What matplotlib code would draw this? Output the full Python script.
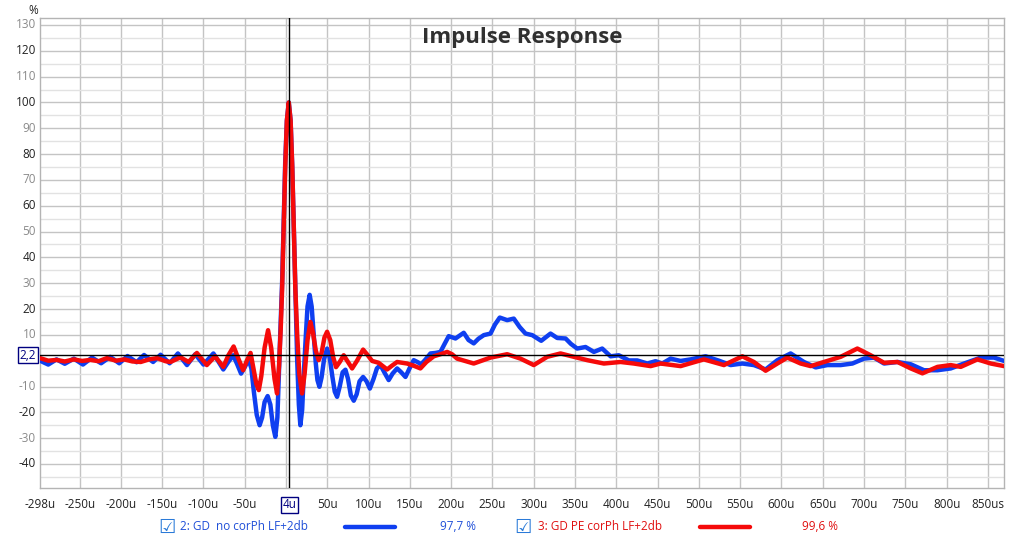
import matplotlib
matplotlib.use('Agg')
import matplotlib.pyplot as plt
from matplotlib.ticker import MultipleLocator
from matplotlib.lines import Line2D

plt.rcParams['font.family'] = ['Open Sans', 'DejaVu Sans']

# series 2: GD no corPh LF+2db  (time in us, amplitude in %)
blue_t = [-298, -288, -278, -268, -257, -246, -235, -224, -213, -202, -192, -181,
          -172, -161, -152, -141, -131, -120, -110, -100, -88, -76, -70, -64,
          -59, -54.5, -50, -45.3, -42, -39, -35.5, -32, -29, -26, -22.3, -19, -16,
          -13, -10.5, -8.5, -6.5, -4.8, -3, -1, 1, 3.3, 5.5, 7.5, 9.5, 11.5, 13.5,
          15.5, 17.3, 19.5, 21.5, 24, 26, 28.6, 31, 33.5, 36, 38, 40.4, 43, 46,
          49.7, 53, 56, 59, 61.8, 65, 68.5, 71.9, 75, 78.5, 82, 85.5, 89, 93.3,
          97.5, 101.5, 106, 110, 114.3, 119, 124.3, 129, 134.5, 139.5, 144.6,
          149.5, 154.6, 159, 163.6, 169, 174.9, 181, 187, 192, 197, 205.2, 215.2,
          221, 227.3, 233, 239.5, 247.6, 253, 258.8, 267.8, 275.8, 283, 290,
          298.1, 309, 320.3, 328.4, 338.5, 345, 352.6, 362.7, 372.8, 382.9, 393,
          403, 415.2, 425.3, 437.5, 447.5, 455.6, 465.7, 477.8, 489.9, 508.1,
          524.2, 538.4, 552.6, 566.6, 580.8, 595, 611.1, 627.2, 641.4, 655.6,
          671.7, 685.9, 699.9, 712.1, 724.2, 740.5, 756.6, 772.7, 788.9, 805,
          821.1, 841.4, 857.5, 869.6]
blue_v = [0.0, -1.5, 0.5, -1.2, 0.8, -1.5, 1.2, -1.0, 1.5, -1.0, 1.8, -0.6,
          2.2, -0.5, 2.3, -1.0, 2.8, -1.7, 2.5, -1.5, 2.8, -3.4, -0.5, 2.1,
          -1.5, -5.0, -2.5, 0.5, -3, -12, -21, -25, -22, -16, -13.7, -17, -25,
          -29.5, -22, -3, 15, 30, 52, 77, 93, 100, 93, 75, 50, 25, 0,
          -17, -25, -19, -5, 10, 21, 25.5, 21, 10, -1, -7.5, -10.1, -6.5, 0.5,
          4.7, 1, -6, -12, -14, -10, -4.5, -3.5, -7, -13.5, -15.5, -13, -8, -6.3,
          -8, -10.8, -7, -3, -1.7, -4.5, -7.5, -5, -3.0, -4.5, -6.3,
          -3, 0.2, -0.5, -1.4, 0.5, 2.8, 3.0, 3.4, 6.5, 9.5, 8.6, 10.8,
          8, 6.7, 8.5, 9.9, 10.5, 14, 16.7, 15.7, 16.3, 13, 10.5,
          9.9, 7.7, 10.5, 8.8, 8.6, 6.5, 4.7, 5.3, 3.4, 4.7, 1.7,
          2.1, 0.1, 0.1, -1.1, -0.2, -1.1, 0.8, -0.1, 0.5, 1.7,
          0.0, -1.7, -1.1, -1.7, -3.4, 0.2, 2.8, -0.5, -2.6, -1.7,
          -1.7, -1.1, 0.8, 1.2, -1.1, -0.5, -1.4, -3.7, -3.7, -3.0,
          -1.1, 1.2, 1.2, -0.1]

# series 3: GD PE corPh LF+2db
red_t = [-298, -288, -278, -268, -257, -247, -237, -227, -217, -206, -196, -186,
         -176, -166, -156, -146, -140, -128, -118, -108, -96, -86, -76, -70,
         -63.5, -58, -52, -47.5, -43, -39.5, -36, -33, -30, -26, -21.8, -18, -14,
         -10.9, -8.5, -6.5, -4.8, -3, -1, 1, 3.3, 5.5, 7.5, 9.5, 11.3, 13.5, 16,
         19.4, 22.5, 26, 29.4, 32.5, 36, 39.5, 43, 46.5, 49.7, 53.5, 57, 60.5, 65,
         69.8, 75, 80, 86, 93.3, 98.5, 104.2, 112, 122.4, 128, 134.5, 146.6, 155,
         162.7, 170, 178.9, 187, 195.1, 201, 207.2, 227.3, 247.6, 267.8, 283.9,
         300, 316.3, 332.4, 348.5, 364.8, 384.9, 405.1, 421.2, 441.5, 453.6,
         477.8, 506, 530.3, 552.6, 566.6, 580.8, 595, 607.1, 623.2, 635.4, 651.5,
         671.7, 691.9, 708, 724.2, 740.5, 756.6, 770.7, 788.9, 805, 817.1, 837.3,
         853.5, 869.6]
red_v = [1.0, 0.0, 0.3, -0.3, 0.5, -0.1, 0.3, -0.2, 1.0, 0.0, 0.5, -0.3,
         -0.5, 0.5, 1.0, -0.2, -0.5, 1.3, -0.5, 3.0, -1.7, 1.7, -2.4, 2,
         5.5, 1, -3.7, 0, 3.0, -3, -9, -11.4, -6, 5, 11.8, 5, -7,
         -12.7, -2, 12, 27.3, 50, 75, 93, 100, 93, 75, 50, 27.3, 10, -5,
         -12.7, -5, 8, 15.0, 11, 4, 0.2, 3, 9, 11.2, 8, 1.5, -2.5, -0.5,
         2.1, -0.5, -3.0, 0, 4.3, 2.3, -0.1, -0.8, -3.4, -2, -0.5, -1.1, -2,
         -3.0, -0.5, 1.7, 2.5, 3.4, 2.5, 0.8, -1.1, 1.2, 2.5, 0.8,
         -1.7, 1.5, 2.8, 1.5, 0.2, -1.1, -0.5, -1.1, -2.1, -1.1,
         -2.1, 0.5, -1.7, 1.7, -0.5, -3.9, -1.1, 1.2, -1.1, -2.1, -0.5,
         1.5, 4.7, 2.1, -0.8, -0.5, -3.0, -4.9, -2.4, -1.7, -2.4, 0.5,
         -1.1, -2.1]

series_names = ['2: GD  no corPh LF+2db', '3: GD PE corPh LF+2db']
series_pct = ['97,7 %', '99,6 %']
series_colors = ['#0f3ff0', '#f50a0a']
text_colors = ['#1f4fd8', '#e01010']

x_ticks = [-298, -250, -200, -150, -100, -50, 50, 100, 150, 200, 250, 300, 350,
           400, 450, 500, 550, 600, 650, 700, 750, 800, 850]
x_labels = ['-298u', '-250u', '-200u', '-150u', '-100u', '-50u', '50u', '100u',
            '150u', '200u', '250u', '300u', '350u', '400u', '450u', '500u',
            '550u', '600u', '650u', '700u', '750u', '800u', '850us']
y_ticks = [130, 120, 110, 100, 90, 80, 70, 60, 50, 40, 30, 20, 10,
           -10, -20, -30, -40]
cursor_t = 4
cursor_v = 2.2

W, H = 1024, 539
fig = plt.figure(figsize=(W / 100, H / 100), dpi=100)
ax = fig.add_axes([40 / W, 1 - 488 / H, (1004 - 40) / W, (488 - 18) / H])
ax.set_xlim(-298, 869.5)
ax.set_ylim(-49.3, 132.7)

# grid
ax.xaxis.set_major_locator(MultipleLocator(50))
ax.yaxis.set_major_locator(MultipleLocator(10))
ax.yaxis.set_minor_locator(MultipleLocator(5))
ax.grid(which='major', color='#c4c4c4', lw=1.0)
ax.grid(which='minor', axis='y', color='#e2e2e2', lw=1.0)
ax.set_axisbelow(True)
for s in ax.spines.values():
    s.set_color('#b4b4b4')
    s.set_linewidth(1.0)
ax.tick_params(which='both', length=0)
ax.set_xticklabels([])
ax.set_yticklabels([])

# tick labels as text
for v in y_ticks:
    col = '#222222' if v % 20 == 0 else '#8a8a8a'
    ax.text(-0.004, v, str(v), transform=ax.get_yaxis_transform(),
            ha='right', va='center', fontsize=8.5, color=col)
for t, lab in zip(x_ticks, x_labels):
    ax.text(t, -0.022, lab, transform=ax.get_xaxis_transform(),
            ha='center', va='top', fontsize=8.5, color='#222222')
fig.text(33 / W, 1 - 10 / H, '%', ha='center', va='center', fontsize=8.5,
         color='#222222')

# curves
ax.plot(blue_t, blue_v, color=series_colors[0], lw=3.2, solid_joinstyle='round',
        solid_capstyle='round', zorder=3)
ax.plot(red_t, red_v, color=series_colors[1], lw=3.2, solid_joinstyle='round',
        solid_capstyle='round', zorder=4)

# cursors
ax.axvline(cursor_t, color='black', lw=1.0, zorder=5)
ax.axhline(cursor_v, color='black', lw=1.0, zorder=5)
box = dict(boxstyle='square,pad=0.15', fc='white', ec='#000080', lw=1.0)
ax.text(-0.004, cursor_v, '2,2', transform=ax.get_yaxis_transform(),
        ha='right', va='center', fontsize=8.5, color='#000080', bbox=box,
        clip_on=False)
ax.text(cursor_t, -0.022, '4u', transform=ax.get_xaxis_transform(),
        ha='center', va='top', fontsize=8.5, color='#000080', bbox=box,
        clip_on=False)

ax.set_title('Impulse Response', fontsize=16, fontweight='bold',
             color='#303030', y=0.93, x=0.5)

# legend row at the bottom
leg_y = 1 - 527 / H
layout = [(167, 180, 345, 395, 458), (523, 538, 700, 750, 820)]
for i, (cb, tx, l0, l1, px) in enumerate(layout):
    fig.text(cb / W, leg_y, '\u2611', ha='center', va='center', fontsize=14,
             color='#2a7ad8', family='DejaVu Sans')
    fig.text(tx / W, leg_y, series_names[i], ha='left', va='center',
             fontsize=8.5, color=text_colors[i])
    fig.add_artist(Line2D([l0 / W, l1 / W], [leg_y, leg_y],
                          color=series_colors[i], lw=3.2,
                          solid_capstyle='round'))
    fig.text(px / W, leg_y, series_pct[i], ha='center', va='center',
             fontsize=8.5, color=text_colors[i])

fig.savefig('out.png', dpi=100)
